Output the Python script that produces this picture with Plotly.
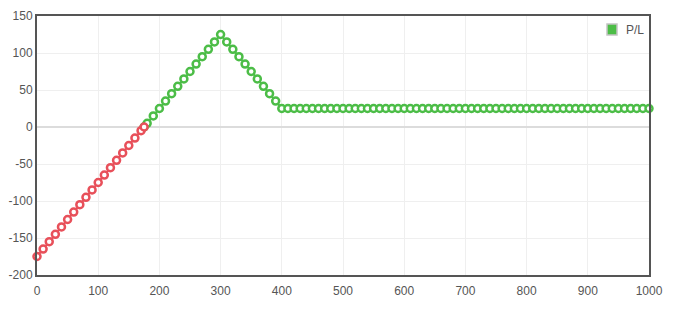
import plotly.graph_objects as go

# Loss segment (P/L <= 0)
loss_x = [0, 10, 20, 30, 40, 50, 60, 70, 80, 90, 100, 110, 120, 130, 140, 150, 160, 170, 175]
loss_y = [-175, -165, -155, -145, -135, -125, -115, -105, -95, -85, -75, -65, -55, -45, -35, -25, -15, -5, 0]

# Profit segment (P/L >= 0)
profit_x = [175, 180, 190, 200, 210, 220, 230, 240, 250, 260, 270, 280, 290, 300,
            310, 320, 330, 340, 350, 360, 370, 380, 390, 400] + list(range(410, 1001, 10))
profit_y = [0, 5, 15, 25, 35, 45, 55, 65, 75, 85, 95, 105, 115, 125,
            115, 105, 95, 85, 75, 65, 55, 45, 35, 25] + [25] * len(range(410, 1001, 10))

x_ticks = [0, 100, 200, 300, 400, 500, 600, 700, 800, 900, 1000]
y_ticks = [-200, -150, -100, -50, 0, 50, 100, 150]
y_tick_labels = ["-200", "-150", "-100", "-50", "0", "50", "100", "150"]
legend_label = "P/L"

GREEN = "#4cbd47"
RED = "#e8505a"

fig = go.Figure()
fig.add_trace(go.Scatter(
    x=profit_x, y=profit_y, mode="lines+markers", name=legend_label, showlegend=False,
    line=dict(color=GREEN, width=2),
    marker=dict(symbol="circle", size=7, color="white", line=dict(color=GREEN, width=2.5)),
    cliponaxis=False,
))
fig.add_trace(go.Scatter(
    x=loss_x, y=loss_y, mode="lines+markers", name=legend_label, showlegend=False,
    line=dict(color=RED, width=2),
    marker=dict(symbol="circle", size=7, color="white", line=dict(color=RED, width=2.5)),
    cliponaxis=False,
))

# legend (square swatch + label) placed at top-right inside the frame
fig.add_shape(type="rect", xref="paper", yref="paper",
              xsizemode="pixel", ysizemode="pixel", xanchor=1, yanchor=1,
              x0=-42, x1=-32, y0=-8, y1=-19,
              fillcolor=GREEN, line=dict(color="#c4c4c4", width=1.5))
fig.add_annotation(text=legend_label, xref="paper", yref="paper", x=1, y=1,
                   xshift=-25, yshift=-14, xanchor="left", yanchor="middle",
                   showarrow=False, font=dict(size=12, color="#555"))

fig.update_layout(
    width=675, height=310,
    margin=dict(l=37, r=26, t=16, b=35, autoexpand=False),
    paper_bgcolor="white", plot_bgcolor="white",
    font=dict(family="Liberation Sans, Arial, sans-serif", size=12, color="#555"),
    showlegend=False,
    xaxis=dict(range=[0, 1000], tickvals=x_ticks, showgrid=True, gridcolor="#efefef",
               zeroline=False, showline=True, linecolor="#555", linewidth=2, mirror=True,
               ticks="", automargin=False, ticklabelstandoff=4, tickfont=dict(color="#555")),
    yaxis=dict(range=[-200, 150], tickvals=y_ticks, ticktext=y_tick_labels,
               showgrid=True, gridcolor="#efefef",
               zeroline=True, zerolinecolor="#dcdcdc", zerolinewidth=2,
               showline=True, linecolor="#555", linewidth=2, mirror=True,
               ticks="", automargin=False, tickfont=dict(color="#555")),
)

fig.write_html("out.html")
